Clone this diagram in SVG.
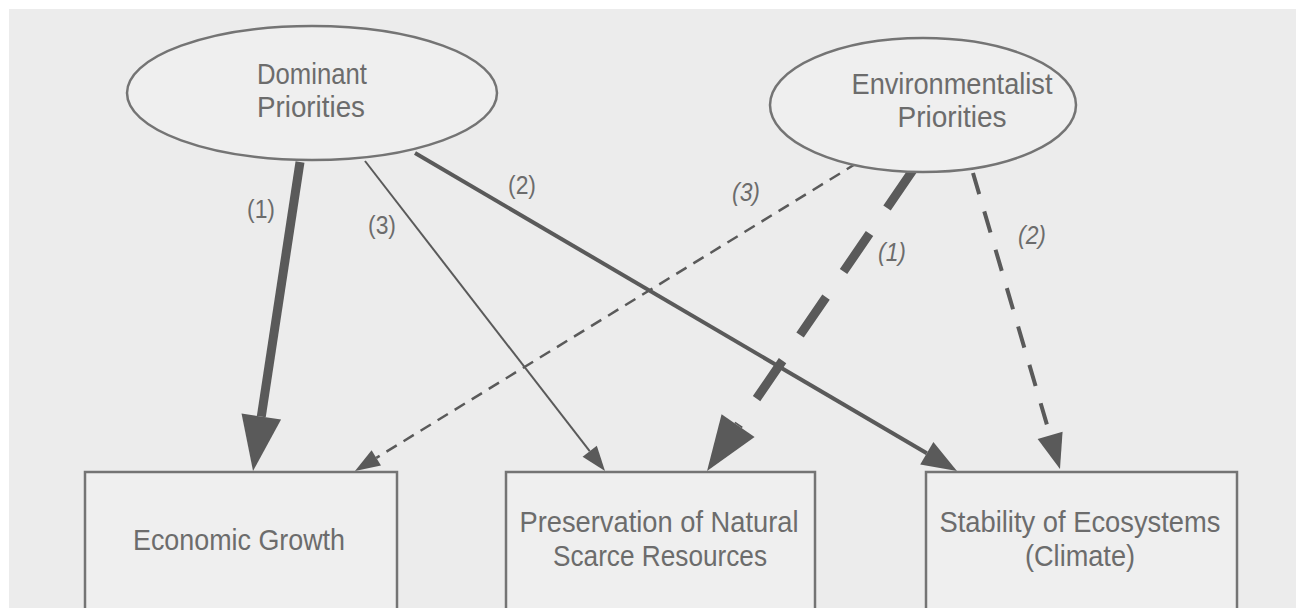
<svg xmlns="http://www.w3.org/2000/svg" width="1296" height="608" viewBox="0 0 1296 608">
<style>
.bg{fill:#ececec}
.node{fill:#efefef;stroke:#747474;stroke-width:2.5}
.t{font-family:"Liberation Sans",Arial,sans-serif;font-size:29px;fill:#6c6c6c;text-anchor:middle}
.lbl{font-family:"Liberation Sans",Arial,sans-serif;font-size:26px;fill:#6c6c6c;text-anchor:middle}
.it{font-style:italic}
.c{fill:none;stroke:#5a5a5a}
.ah{fill:#5a5a5a}
</style>
<defs>
<marker id="big" markerUnits="userSpaceOnUse" markerWidth="55" markerHeight="40" refX="0" refY="20" orient="auto" overflow="visible"><path class="ah" d="M0,0 L55,20 L0,40 Z"/></marker>
<marker id="med" markerUnits="userSpaceOnUse" markerWidth="35" markerHeight="26" refX="0" refY="13" orient="auto" overflow="visible"><path class="ah" d="M0,0 L35,13 L0,26 Z"/></marker>
<marker id="sml" markerUnits="userSpaceOnUse" markerWidth="25" markerHeight="18" refX="0" refY="9" orient="auto" overflow="visible"><path class="ah" d="M0,0 L25,9 L0,18 Z"/></marker>
</defs>
<rect width="1296" height="608" fill="#ffffff"/>
<rect class="bg" x="9" y="9" width="1287" height="599"/>

<g id="connectors">
<path class="c" d="M300,162 L261.3,416.6" stroke-width="9" marker-end="url(#big)"/>
<path class="c" d="M365,161 L589.7,451.2" stroke-width="2" marker-end="url(#sml)"/>
<path class="c" d="M415,153 L926.8,453.3" stroke-width="4" marker-end="url(#med)"/>
<path class="c" d="M857,163 L376.3,457.9" stroke-width="2.5" stroke-dasharray="12 8" marker-end="url(#sml)"/>
<path class="c" d="M913,170 L738.1,425.6" stroke-width="9" stroke-dasharray="46 31" marker-end="url(#big)"/>
<path class="c" d="M973,173 L1050.1,435.4" stroke-width="4" stroke-dasharray="22 18" marker-end="url(#med)"/>
<text class="lbl" x="261" y="218" textLength="28" lengthAdjust="spacingAndGlyphs">(1)</text>
<text class="lbl" x="382" y="234" textLength="28" lengthAdjust="spacingAndGlyphs">(3)</text>
<text class="lbl" x="522" y="194" textLength="28" lengthAdjust="spacingAndGlyphs">(2)</text>
<text class="lbl it" x="746" y="201" textLength="28" lengthAdjust="spacingAndGlyphs">(3)</text>
<text class="lbl it" x="892" y="261" textLength="28" lengthAdjust="spacingAndGlyphs">(1)</text>
<text class="lbl it" x="1032" y="244" textLength="28" lengthAdjust="spacingAndGlyphs">(2)</text>
</g>

<g id="dominant">
<ellipse class="node" cx="312" cy="93" rx="185" ry="67"/>
<text class="t" x="312" y="84" textLength="110" lengthAdjust="spacingAndGlyphs">Dominant</text>
<text class="t" x="311" y="117" textLength="108" lengthAdjust="spacingAndGlyphs">Priorities</text>
</g>

<g id="environmentalist">
<ellipse class="node" cx="923" cy="105" rx="153" ry="67"/>
<text class="t" x="952" y="94" textLength="201" lengthAdjust="spacingAndGlyphs">Environmentalist</text>
<text class="t" x="952" y="127" textLength="109" lengthAdjust="spacingAndGlyphs">Priorities</text>
</g>

<g id="economic-growth">
<rect class="node" x="85" y="472" width="312" height="150"/>
<text class="t" x="239" y="550" textLength="212" lengthAdjust="spacingAndGlyphs">Economic Growth</text>
</g>

<g id="preservation">
<rect class="node" x="506" y="472" width="309" height="150"/>
<text class="t" x="659" y="532" textLength="279" lengthAdjust="spacingAndGlyphs">Preservation of Natural</text>
<text class="t" x="660" y="566" textLength="214" lengthAdjust="spacingAndGlyphs">Scarce Resources</text>
</g>

<g id="stability">
<rect class="node" x="926" y="472" width="311" height="150"/>
<text class="t" x="1080" y="532" textLength="281" lengthAdjust="spacingAndGlyphs">Stability of Ecosystems</text>
<text class="t" x="1080" y="566" textLength="110" lengthAdjust="spacingAndGlyphs">(Climate)</text>
</g>
</svg>
